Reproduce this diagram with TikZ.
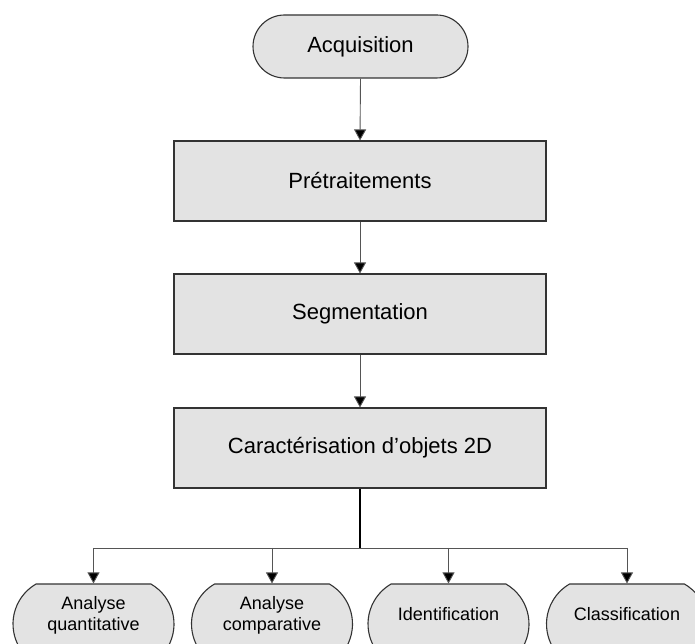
\documentclass[tikz,border=0pt]{standalone}
\usepackage{fontspec}
\setmainfont{Liberation Sans}
\usetikzlibrary{shapes.misc,arrows.meta}
\definecolor{boxfill}{HTML}{E3E3E3}
\definecolor{boxline}{HTML}{333333}
\definecolor{wire}{HTML}{555555}
% result labels sit a little above the centre of their pill
\newcommand{\leaftext}[1]{\raisebox{8pt}[\height][\depth]{\begin{tabular}{@{}c@{}}#1\end{tabular}}}
\begin{document}
\begin{tikzpicture}[x=1pt,y=1pt,
  stepbox/.style={draw=boxline,line width=1.1pt,fill=boxfill,rectangle,
    minimum width=372pt,minimum height=80pt,inner sep=0pt,
    font=\fontsize{22}{26}\selectfont},
  startpill/.style={draw=boxline,line width=1.1pt,fill=boxfill,rounded rectangle,
    minimum width=215pt,minimum height=63pt,inner sep=0pt,
    font=\fontsize{22}{26}\selectfont},
  leafpill/.style={draw=boxline,line width=1.1pt,fill=boxfill,rounded rectangle,
    rounded rectangle arc length=120,
    minimum width=161pt,minimum height=80pt,inner sep=0pt,
    font=\fontsize{18}{20.5}\selectfont},
  flow/.style={draw=wire,line width=0.9pt,-{Triangle[width=12pt,length=11pt,fill=black]}},
  trunk/.style={draw=black,line width=1.1pt}
]
\useasboundingbox (0,0) rectangle (695,644);
\clip (0,0) rectangle (695,644);

% main chain
\node[startpill] (acq) at (360.5,597.5) {Acquisition};
\node[stepbox] (pre) at (360,463) {Prétraitements};
\node[stepbox] (seg) at (360,330) {Segmentation};
\node[stepbox] (car) at (360,196) {Caractérisation d’objets 2D};

% results
\node[leafpill] (quant) at (93.5,20) {\leaftext{Analyse\\quantitative}};
\node[leafpill] (comp) at (272,20) {\leaftext{Analyse\\comparative}};
\node[leafpill] (ident) at (448.5,20) {\leaftext{Identification}};
\node[leafpill] (class) at (627,20) {\leaftext{Classification}};

\draw[flow] (acq.south) -- (pre.north);
\draw[flow] (pre.south) -- (seg.north);
\draw[flow] (seg.south) -- (car.north);

% branching bus
\coordinate (hub) at (360,96);
\draw[trunk] (car.south) -- (hub);
\draw[draw=wire,line width=0.9pt] (quant.north |- hub) -- (class.north |- hub);
\foreach \leaf in {quant,comp,ident,class}
  \draw[flow] (\leaf.north |- hub) -- (\leaf.north);
\end{tikzpicture}
\end{document}
